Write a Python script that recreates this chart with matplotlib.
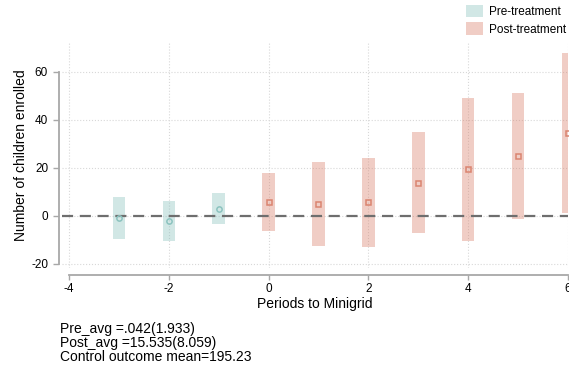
import numpy as np
import matplotlib.pyplot as plt
from matplotlib.patches import Patch

plt.rcParams['font.family'] = ['Liberation Sans', 'DejaVu Sans']
plt.rcParams['axes.unicode_minus'] = False

# event-study estimates: period, point estimate, CI bounds
pre_period = [-3, -2, -1]
pre_coef = [-0.8, -2.0, 3.1]
pre_lo = [-9.7, -10.3, -3.3]
pre_hi = [8.0, 6.2, 9.6]

post_period = [0, 1, 2, 3, 4, 5, 6]
post_coef = [6.0, 5.0, 5.7, 13.9, 19.4, 25.0, 34.6]
post_lo = [-6.1, -12.5, -12.9, -7.2, -10.3, -1.1, 1.1]
post_hi = [18.0, 22.4, 24.3, 35.0, 49.3, 51.1, 68.0]

xticks = [-4, -2, 0, 2, 4, 6]
yticks = [-20, 0, 20, 40, 60]

pre_col = '#8cc3bf'
post_col = '#da8470'
axis_col = '#a8a8a8'

fig = plt.figure(figsize=(5.69, 3.69), dpi=100)
ax = fig.add_axes([62/569, 1 - 267.6/369, 506/569, (267.6 - 43.2)/369])

bw = 0.25
ax.bar(pre_period, np.array(pre_hi) - np.array(pre_lo), bottom=pre_lo,
       width=bw, color=pre_col, alpha=0.4, linewidth=0, zorder=2)
ax.bar(post_period, np.array(post_hi) - np.array(post_lo), bottom=post_lo,
       width=bw, color=post_col, alpha=0.4, linewidth=0, zorder=2)

ax.axhline(0, color='#6e6e6e', lw=1.6, ls=(0, (5, 3)), zorder=3)

ax.plot(pre_period, pre_coef, 'o', ms=3.8, mfc='none', mec=pre_col, mew=1.1, zorder=4)
ax.plot(post_period, post_coef, 's', ms=3.6, mfc='none', mec=post_col, mew=1.1, zorder=4)

ax.set_xlim(-4.14, 6)
ax.set_ylim(-21.5, 72)
ax.set_xticks(xticks)
ax.set_yticks(yticks)
ax.grid(True, color='#d8d8d8', ls=':', lw=0.8, zorder=1)
ax.set_axisbelow(True)

for s in ['top', 'right']:
    ax.spines[s].set_visible(False)
ax.spines['left'].set_position(('outward', 2))
ax.spines['left'].set_bounds(-20, 60)
ax.spines['bottom'].set_position(('outward', 5))
ax.spines['bottom'].set_bounds(-4, 6)
for s in ['left', 'bottom']:
    ax.spines[s].set_color(axis_col)
    ax.spines[s].set_linewidth(1.3)
ax.tick_params(colors=axis_col, labelcolor='black', labelsize=8.5, length=4, width=1.0)
ax.tick_params(axis='y', pad=4)
ax.tick_params(axis='x', length=3.5, pad=2.5)

ax.set_xlabel('Periods to Minigrid', fontsize=10, labelpad=1.5)
ax.set_ylabel('Number of children enrolled', fontsize=10, labelpad=2.5)

handles = [Patch(facecolor=pre_col, alpha=0.4, label='Pre-treatment'),
           Patch(facecolor=post_col, alpha=0.4, label='Post-treatment')]
fig.legend(handles=handles, loc='upper left', bbox_to_anchor=(461/569, 1.0),
           frameon=False, fontsize=8.5, handlelength=1.45, handleheight=1.2,
           handletextpad=0.5, labelspacing=0.35, borderaxespad=0.05)

fig.text(60/569, 1 - 322/369,
         'Pre_avg =.042(1.933)\nPost_avg =15.535(8.059)\nControl outcome mean=195.23',
         fontsize=10, va='top', ha='left', linespacing=1.0)

fig.savefig('out.png', dpi=100)
